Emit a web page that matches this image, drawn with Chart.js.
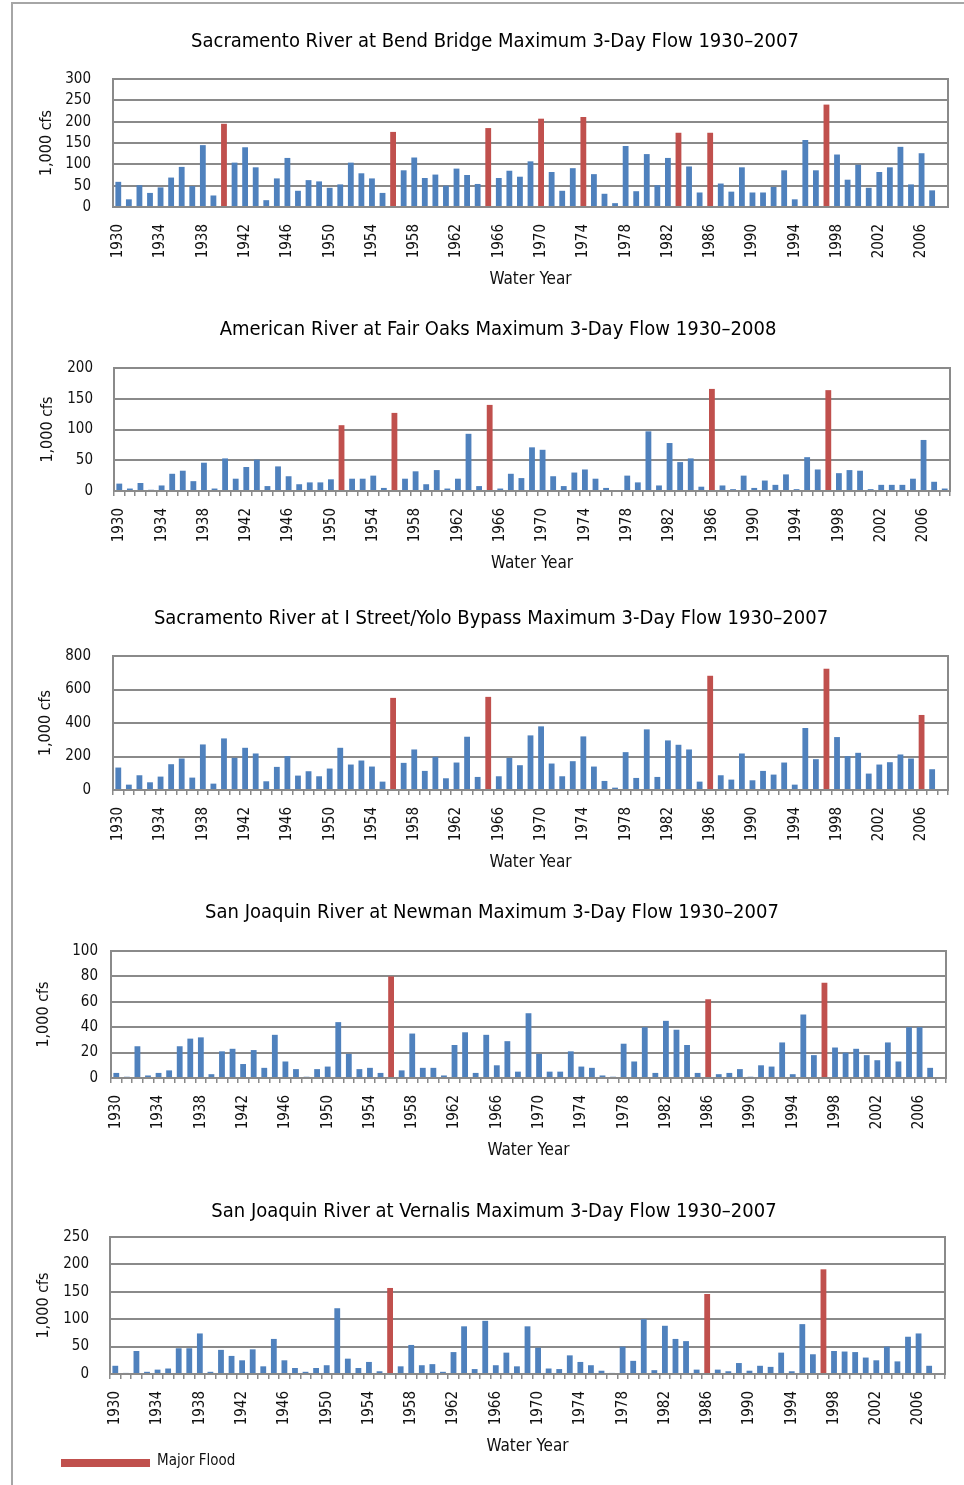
<!DOCTYPE html>
<html>
<head>
<meta charset="utf-8">
<script src="https://cdn.jsdelivr.net/npm/chart.js@4.4.1/dist/chart.umd.min.js"></script>
<style>
  body { margin: 0; background: #fff; }
  #page { position: relative; width: 964px; height: 1485px; overflow: hidden; background: #fff; }
  #frame { position: absolute; left: 11px; top: 2px; width: 970px; height: 1500px;
           border-left: 2px solid #a6a6a6; border-top: 2px solid #a6a6a6; }
  canvas { position: absolute; left: 0; }
  #legendBar { position: absolute; left: 61px; top: 1459px; width: 89px; height: 8px; background: #C0504D; }
  #legendText { position: absolute; left: 157px; top: 1451px; line-height: 20px;
                font: 15px 'DejaVu Sans Condensed', 'DejaVu Sans', sans-serif; color: #111; }
</style>
</head>
<body>
<div id="page">
  <div id="frame"></div>
  <canvas id="c1"></canvas>
  <canvas id="c2"></canvas>
  <canvas id="c3"></canvas>
  <canvas id="c4"></canvas>
  <canvas id="c5"></canvas>
  <div id="legendBar"></div>
  <div id="legendText">Major Flood</div>
</div>
<script>
function range(a, b) {
	const out = [];
	for (let y = a; y <= b; y++) out.push(y);
	return out;
}

// water years on the x axis (every chart keeps a slot for 2008)
const waterYears = range(1930, 2008);

// maximum 3-day flow, 1,000 cfs
const bendBridgeFlow = [
	59, 18, 51, 33, 46, 69, 94, 49, 145, 27,
	195, 104, 140, 93, 16, 67, 115, 38, 63, 60,
	45, 53, 104, 79, 67, 33, 176, 86, 116, 68,
	76, 50, 90, 75, 54, 185, 68, 85, 71, 107,
	207, 82, 38, 91, 211, 77, 31, 9, 143, 37,
	124, 51, 115, 174, 95, 34, 174, 55, 36, 93,
	34, 34, 47, 86, 18, 157, 86, 240, 123, 64,
	99, 45, 82, 93, 141, 53, 126, 39
];
const fairOaksFlow = [
	12, 4, 13, 2, 9, 28, 33, 16, 46, 4,
	53, 20, 39, 51, 8, 40, 24, 11, 14, 14,
	19, 107, 20, 20, 25, 5, 127, 20, 32, 11,
	34, 4, 20, 93, 8, 140, 4, 28, 21, 71,
	67, 24, 8, 30, 35, 20, 5, 1, 25, 14,
	97, 9, 78, 47, 53, 7, 166, 9, 3, 25,
	5, 17, 10, 27, 3, 55, 35, 164, 29, 34,
	33, 3, 10, 10, 10, 20, 83, 15, 4
];
const iStreetFlow = [
	134, 32, 88, 46, 80, 154, 188, 74, 272, 38,
	308, 192, 252, 218, 52, 138, 202, 86, 112, 82,
	128, 252, 152, 176, 140, 50, 550, 162, 242, 114,
	198, 70, 164, 318, 78, 556, 82, 192, 148, 326,
	380, 158, 82, 172, 320, 140, 54, 14, 226, 72,
	362, 78, 296, 270, 242, 50, 682, 88, 62, 218,
	58, 114, 92, 164, 32, 370, 184, 724, 316, 202,
	222, 98, 152, 166, 212, 188, 448, 124
];
const newmanFlow = [
	4, 1, 25, 2, 4, 6, 25, 31, 32, 3,
	21, 23, 11, 22, 8, 34, 13, 7, 1, 7,
	9, 44, 19, 7, 8, 4, 80, 6, 35, 8,
	8, 2, 26, 36, 4, 34, 10, 29, 5, 51,
	19, 5, 5, 21, 9, 8, 2, 1, 27, 13,
	40, 4, 45, 38, 26, 4, 62, 3, 4, 7,
	1, 10, 9, 28, 3, 50, 18, 75, 24, 20,
	23, 18, 14, 28, 13, 40, 40, 8
];
const vernalisFlow = [
	15, 2, 42, 4, 8, 10, 47, 47, 74, 4,
	44, 33, 25, 45, 14, 64, 25, 11, 4, 11,
	16, 120, 28, 11, 22, 5, 157, 14, 53, 16,
	18, 4, 40, 87, 9, 97, 16, 39, 14, 87,
	48, 10, 9, 34, 22, 16, 6, 2, 50, 24,
	100, 7, 88, 64, 60, 8, 146, 8, 5, 20,
	6, 15, 13, 39, 5, 91, 36, 191, 42, 41,
	40, 30, 25, 50, 23, 68, 74, 15
];

// major flood years (red bars)
const bendBridgeFloods = [1940, 1956, 1965, 1970, 1974, 1983, 1986, 1997];
const fairOaksFloods = [1951, 1956, 1965, 1986, 1997];
const iStreetFloods = [1956, 1965, 1986, 1997, 2006];
const newmanFloods = [1956, 1986, 1997];
const vernalisFloods = [1956, 1986, 1997];

// y axis ticks: [max, step]
const bendBridgeTicks = [300, 50];
const fairOaksTicks = [200, 50];
const iStreetTicks = [800, 200];
const newmanTicks = [100, 20];
const vernalisTicks = [250, 50];

const blue = '#4F81BD';
const red = '#C0504D';
const gridColor = '#8a8a8a';
const fontFamily = "'DejaVu Sans Condensed', 'DejaVu Sans', sans-serif";

Chart.defaults.font.family = fontFamily;
Chart.defaults.color = '#111';

// draws the box round the plot area
const plotBorder = {
	id: 'plotBorder',
	afterDatasetsDraw(chart) {
		const { ctx, chartArea: a } = chart;
		ctx.save();
		ctx.strokeStyle = gridColor;
		ctx.lineWidth = 2;
		ctx.strokeRect(a.left, a.top, a.right - a.left, a.bottom - a.top);
		ctx.restore();
	}
};

function drawFlowChart(id, title, years, values, floods, ticks, g) {
	const canvas = document.getElementById(id);
	const top = g.titleY - 24;
	const height = g.xTitleY + 14 - top;
	canvas.style.top = top + 'px';
	canvas.width = 964;
	canvas.height = height;

	const padRight = 964 - g.right;
	const padLeft = 2 * g.titleCenter - (964 - padRight);
	// first chart has no tick marks under the year axis
	const tickMarks = g.tickMarks !== false;

	return new Chart(canvas, {
		type: 'bar',
		data: {
			labels: years,
			datasets: [{
				data: values,
				backgroundColor: years.map(y => floods.includes(y) ? red : blue),
				categoryPercentage: 1,
				barPercentage: 0.55
			}]
		},
		options: {
			responsive: false,
			animation: false,
			layout: { padding: { left: padLeft, right: padRight, top: 0, bottom: 0 } },
			plugins: {
				legend: { display: false },
				tooltip: { enabled: false },
				title: {
					display: true,
					text: title,
					color: '#000',
					font: { size: 20, weight: 'normal' },
					padding: { top: 13, bottom: g.top - (top + 13 + 20 * 1.2) }
				}
			},
			scales: {
				x: {
					grid: { drawOnChartArea: false, drawTicks: tickMarks, tickLength: 5, color: gridColor, lineWidth: 1.5 },
					border: { display: false },
					ticks: {
						autoSkip: false,
						minRotation: 90,
						maxRotation: 90,
						padding: tickMarks ? 12 : 17,
						font: { size: 15 },
						callback: function (val) {
							const y = this.getLabelForValue(val);
							return (y - 1930) % 4 === 0 ? String(y) : '';
						}
					},
					title: {
						display: true,
						text: 'Water Year',
						font: { size: 17 },
						padding: { top: 0, bottom: 1.5 }
					},
					afterFit: scale => {
						scale.height = top + height - g.bottom;
						scale.paddingLeft = 0;
						scale.paddingRight = 0;
					}
				},
				y: {
					min: 0,
					max: ticks[0],
					grid: { drawTicks: false, color: gridColor, lineWidth: 2 },
					border: { display: false },
					ticks: { stepSize: ticks[1], padding: g.tickGap, font: { size: 15 } },
					title: {
						display: true,
						text: '1,000 cfs',
						font: { size: 16 },
						padding: { top: g.yTitleX - padLeft - 9.6, bottom: 0 }
					},
					afterFit: scale => { scale.width = g.left - padLeft; }
				}
			}
		},
		plugins: [plotBorder]
	});
}

document.addEventListener("DOMContentLoaded", function () {
	drawFlowChart('c1', 'Sacramento River at Bend Bridge Maximum 3-Day Flow 1930\u20132007',
		waterYears, bendBridgeFlow, bendBridgeFloods, bendBridgeTicks,
		{ titleY: 41, top: 79, bottom: 207, left: 113, right: 948, xTitleY: 277, yTitleX: 47, titleCenter: 495, tickGap: 22, tickMarks: false });

	drawFlowChart('c2', 'American River at Fair Oaks Maximum 3-Day Flow 1930\u20132008',
		waterYears, fairOaksFlow, fairOaksFloods, fairOaksTicks,
		{ titleY: 329, top: 368, bottom: 491, left: 114, right: 950, xTitleY: 561, yTitleX: 48, titleCenter: 498, tickGap: 21 });

	drawFlowChart('c3', 'Sacramento River at I Street/Yolo Bypass Maximum 3-Day Flow 1930\u20132007',
		waterYears, iStreetFlow, iStreetFloods, iStreetTicks,
		{ titleY: 618, top: 656, bottom: 790, left: 113, right: 948, xTitleY: 860, yTitleX: 46, titleCenter: 491, tickGap: 22 });

	drawFlowChart('c4', 'San Joaquin River at Newman Maximum 3-Day Flow 1930\u20132007',
		waterYears, newmanFlow, newmanFloods, newmanTicks,
		{ titleY: 912, top: 951, bottom: 1078, left: 111, right: 946, xTitleY: 1148, yTitleX: 44, titleCenter: 492, tickGap: 13 });

	drawFlowChart('c5', 'San Joaquin River at Vernalis Maximum 3-Day Flow 1930\u20132007',
		waterYears, vernalisFlow, vernalisFloods, vernalisTicks,
		{ titleY: 1211, top: 1237, bottom: 1374, left: 110, right: 945, xTitleY: 1444, yTitleX: 44, titleCenter: 494, tickGap: 21 });
});
</script>
</body>
</html>
